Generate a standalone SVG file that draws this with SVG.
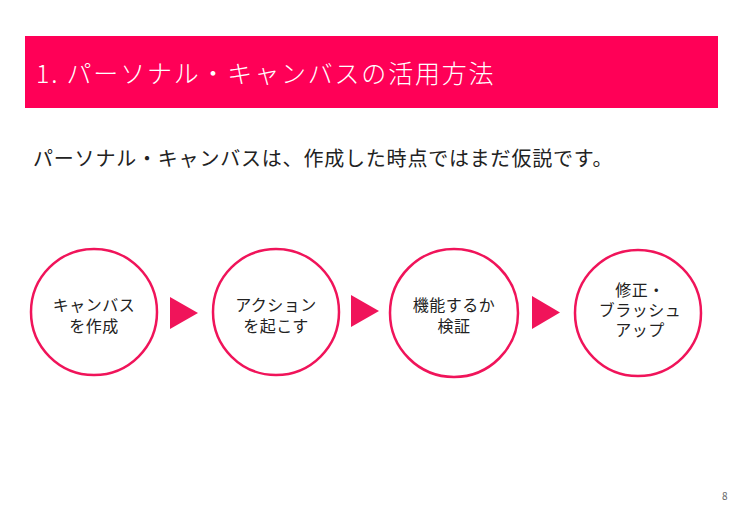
<svg xmlns="http://www.w3.org/2000/svg" width="744" height="513" viewBox="0 0 744 513">
<style>
text{font-family:"Noto Sans CJK JP","Noto Sans",sans-serif;}
.node circle{fill:#fff;stroke:#F0145A;stroke-width:2.5;}
.node text{font-size:16px;fill:#222;text-anchor:middle;letter-spacing:0.5px;}
.arrow{fill:#F0145A;}
</style>
<rect width="744" height="513" fill="#fff"/>
<g id="header">
<rect x="25" y="36" width="693" height="72" fill="#FF0057"/>
<text x="36" y="83" font-size="25" font-weight="300" letter-spacing="1.8" fill="#fff">1. パーソナル・キャンバスの活用方法</text>
</g>
<text id="subtitle" x="33" y="166" font-size="20" letter-spacing="0.8" fill="#222">パーソナル・キャンバスは、作成した時点ではまだ仮説です。</text>
<g id="n1" class="node">
<circle cx="94" cy="312" r="63"/>
<text x="94" y="311">キャンバス</text>
<text x="94" y="332">を作成</text>
</g>
<g id="n2" class="node">
<circle cx="276" cy="312" r="63"/>
<text x="276" y="311">アクション</text>
<text x="276" y="332">を起こす</text>
</g>
<g id="n3" class="node">
<circle cx="454" cy="313" r="64"/>
<text x="454" y="311">機能するか</text>
<text x="454" y="332">検証</text>
</g>
<g id="n4" class="node">
<circle cx="638" cy="313" r="63"/>
<text x="640" y="296">修正・</text>
<text x="640" y="316">ブラッシュ</text>
<text x="640" y="336">アップ</text>
</g>
<g id="connectors">
<polygon class="arrow" points="170,297 198,313 170,329"/>
<polygon class="arrow" points="351,295 379,311 351,327"/>
<polygon class="arrow" points="532,296 560,312.5 532,329"/>
</g>
<text x="722" y="500" font-size="10" fill="#666" font-family="Liberation Sans, sans-serif">8</text>
</svg>
